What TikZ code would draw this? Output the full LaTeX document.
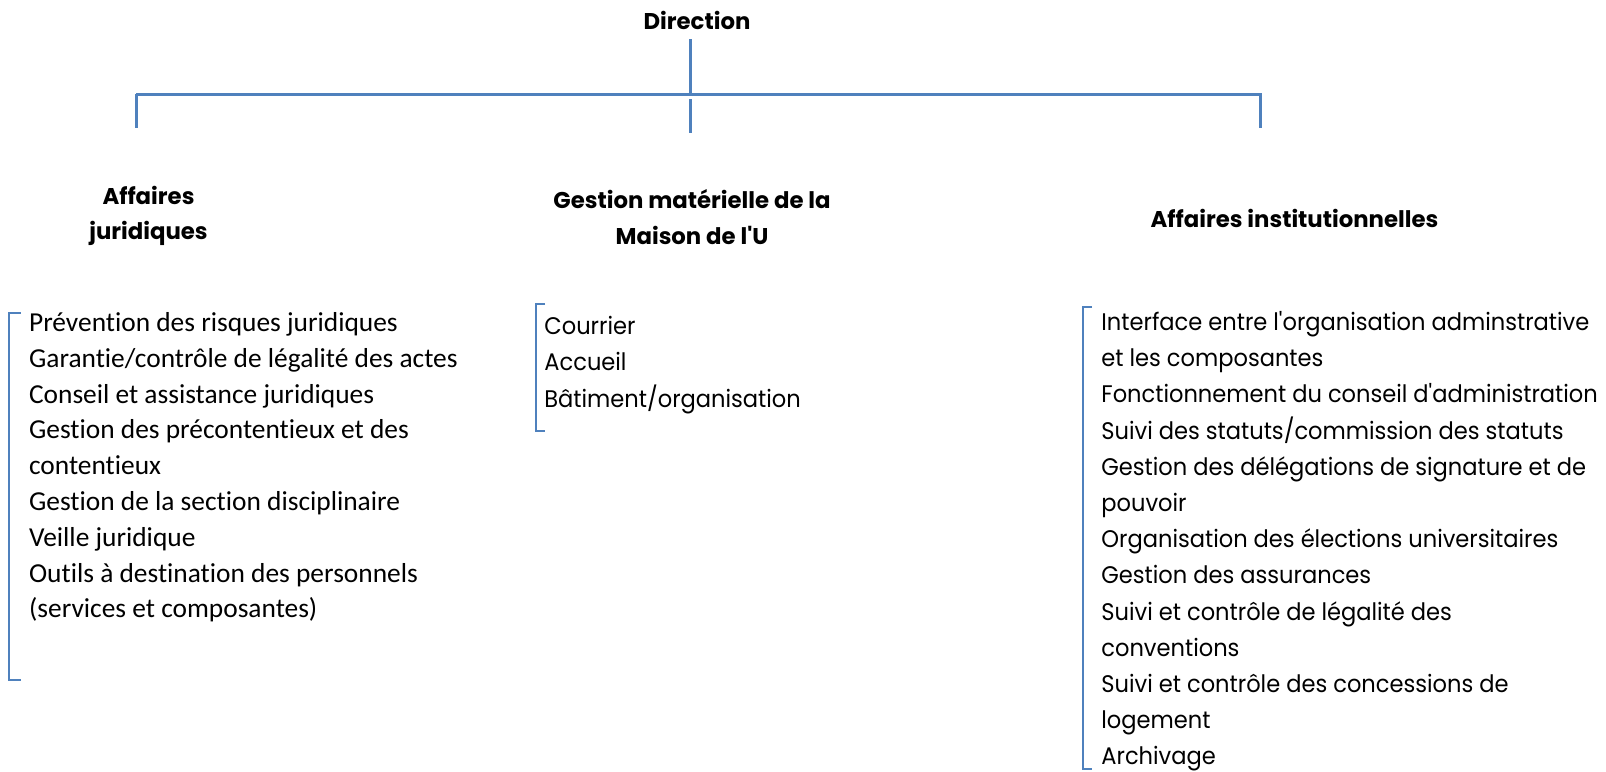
\documentclass[tikz,border=0pt]{standalone}
\usepackage{fontspec}
\newfontfamily\calib[Ligatures=NoCommon]{Carlito}
\newfontfamily\fut[FakeStretch=0.94]{Poppins}
\newfontfamily\futh{Poppins}
\definecolor{lnblue}{RGB}{79,129,189}
\tikzset{
 conn/.style={draw=lnblue, line width=1.5pt},
 brk/.style={draw=lnblue, line width=0.9pt},
 head/.style={font=\futh\bfseries\fontsize{11.4}{17.75}\selectfont, align=center, inner sep=0pt},
 listc/.style={font=\calib\fontsize{13.7}{17.9}\selectfont, align=left, anchor=north west, inner sep=0pt},
 listf/.style={font=\fut\fontsize{12}{18.1}\selectfont, align=left, anchor=north west, inner sep=0pt},
}
\begin{document}
\begin{tikzpicture}[x=0.5pt,y=-0.5pt]
\useasboundingbox (0,0) rectangle (1606,771);
% headings
\node[head] (dir) at (697,20) {Direction};
\node[head] (aj) at (148.5,216) {Affaires\\juridiques};
\node[head] (gm) at (692,217) {Gestion matérielle de la\\Maison de l'U};
\node[head] (ai) at (1294.5,218) {Affaires institutionnelles};
% connectors
\coordinate (dtop) at (690,39);
\coordinate (junc) at (690,94);
\coordinate (hl) at (136,94);
\coordinate (hr) at (1262,94);
\coordinate (ljoin) at (136,94);
\coordinate (lend) at (136,128);
\coordinate (rjoin) at (1260,94);
\coordinate (rend) at (1260,128);
\coordinate (mtop) at (690,99);
\coordinate (mend) at (690,133);
\draw[conn] (dtop) -- (junc);
\draw[conn] (hl) -- (hr);
\draw[conn] (ljoin) -- (lend);
\draw[conn] (rjoin) -- (rend);
\draw[conn] (mtop) -- (mend);
% lists
\node[listc] (l1) at (28.7,312) {Prévention des risques juridiques\\
Garantie/contrôle de légalité des actes\\
Conseil et assistance juridiques\\
Gestion des précontentieux et des\\
contentieux\\
Gestion de la section disciplinaire\\
Veille juridique\\
Outils à destination des personnels\\
(services et composantes)};
\node[listf] (l2) at (544,316) {Courrier\\Accueil\\Bâtiment/organisation};
\node[listf] (l3) at (1101,311) {Interface entre l'organisation adminstrative\\
et les composantes\\
Fonctionnement du conseil d'administration\\
Suivi des statuts/commission des statuts\\
Gestion des délégations de signature et de\\
pouvoir\\
Organisation des élections universitaires\\
Gestion des assurances\\
Suivi et contrôle de légalité des\\
conventions\\
Suivi et contrôle des concessions de\\
logement\\
Archivage};
% brackets
\draw[brk] (20.7,313) -- (9.3,313) -- (9.3,680) -- (20.7,680);
\draw[brk] (545,304) -- (536,304) -- (536,431) -- (545,431);
\draw[brk] (1092,307) -- (1083,307) -- (1083,769) -- (1092,769);
\end{tikzpicture}
\end{document}
